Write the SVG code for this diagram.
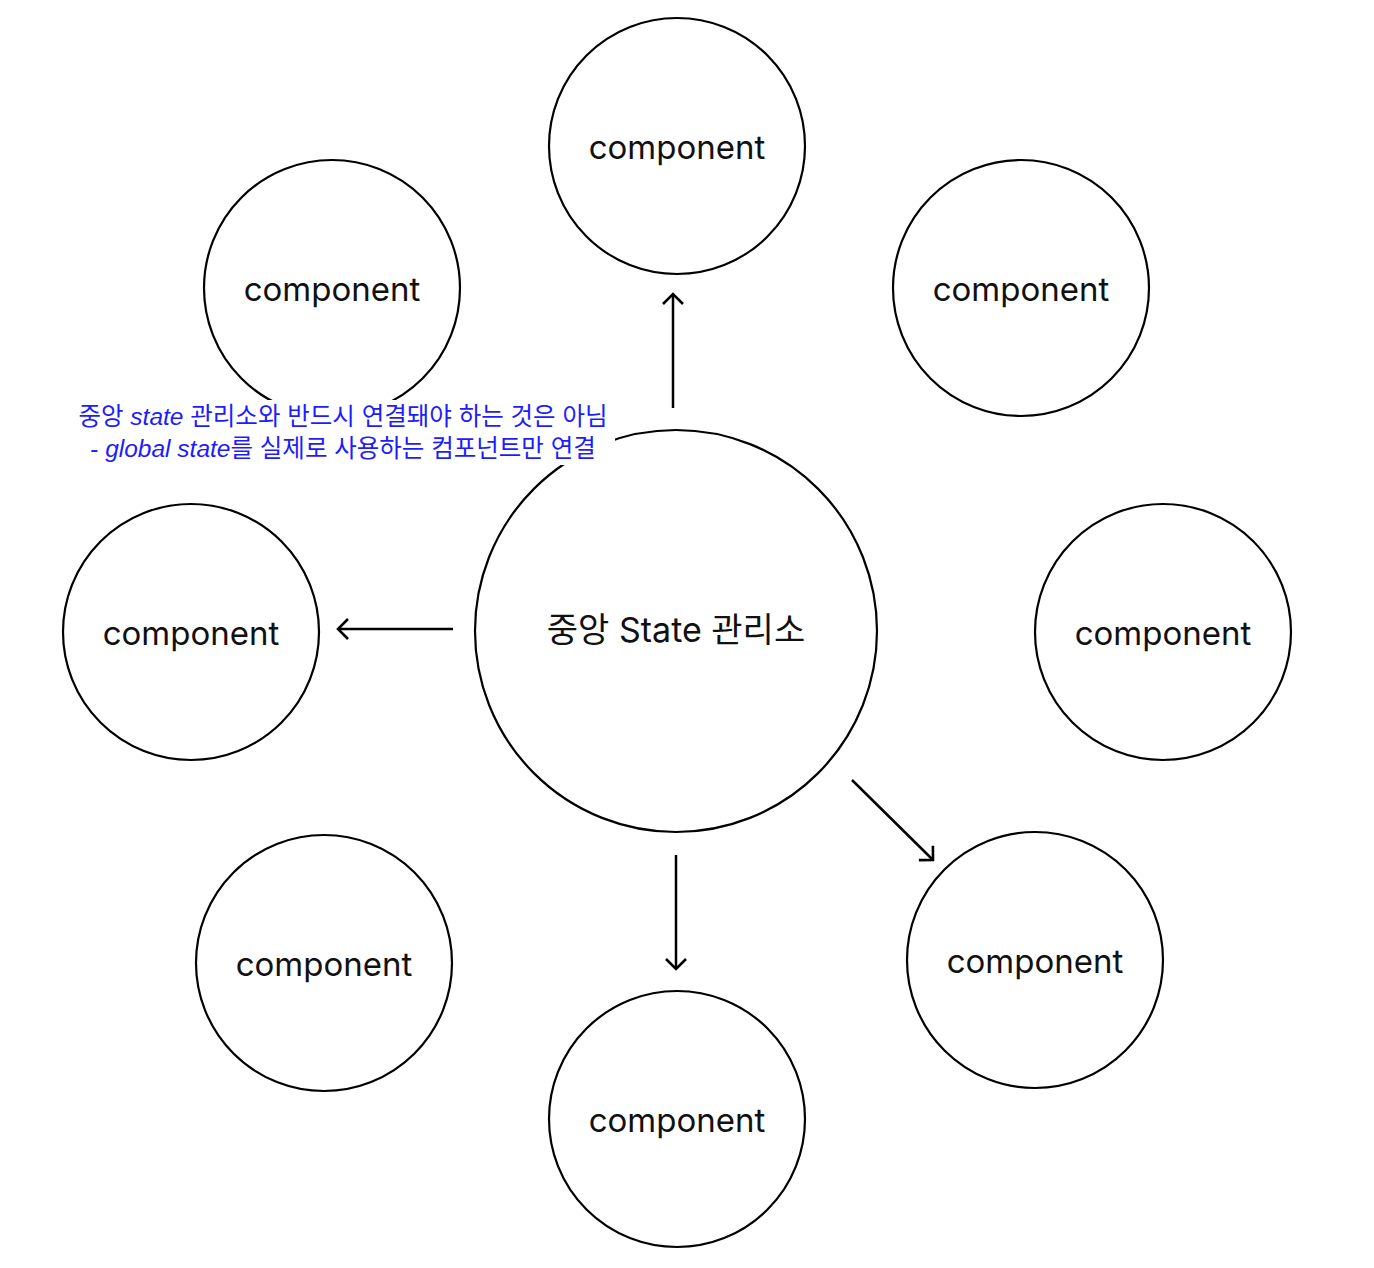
<svg xmlns="http://www.w3.org/2000/svg" width="1374" height="1268" viewBox="0 0 1374 1268">
<style>
.n{fill:#fff;stroke:#000;stroke-width:2.2}
.t{font-family:Inter,"Noto Sans CJK KR",sans-serif;font-size:33px;fill:#111;text-anchor:middle;dominant-baseline:central}
.c{stroke:#000;stroke-width:2.5;fill:none}
.note{font-family:"Liberation Sans","Noto Sans CJK KR",sans-serif;font-size:24.5px;fill:#1c1cff;text-anchor:middle}
</style>
<defs>
<marker id="a" viewBox="0 0 16 24" refX="14" refY="12" markerWidth="16" markerHeight="24" markerUnits="userSpaceOnUse" orient="auto">
<path d="M4,2 L14,12 L4,22" fill="none" stroke="#000" stroke-width="2.6"/>
</marker>
</defs>
<rect width="1374" height="1268" fill="#fff"/>
<g id="c-top"><circle class="n" cx="677" cy="146" r="128"/><text class="t" x="677" y="147">component</text></g>
<g id="c-topleft"><circle class="n" cx="332" cy="288" r="128"/><text class="t" x="332" y="289">component</text></g>
<g id="c-topright"><circle class="n" cx="1021" cy="288" r="128"/><text class="t" x="1021" y="289">component</text></g>
<g id="c-left"><circle class="n" cx="191" cy="632" r="128"/><text class="t" x="191" y="633">component</text></g>
<g id="center"><circle class="n" cx="676" cy="631" r="201"/><text class="t" x="676" y="629" style="font-size:34px">중앙 State 관리소</text></g>
<g id="c-right"><circle class="n" cx="1163" cy="632" r="128"/><text class="t" x="1163" y="633">component</text></g>
<g id="c-bottomleft"><circle class="n" cx="324" cy="963" r="128"/><text class="t" x="324" y="964">component</text></g>
<g id="c-bottom"><circle class="n" cx="677" cy="1119" r="128"/><text class="t" x="677" y="1120">component</text></g>
<g id="c-bottomright"><circle class="n" cx="1035" cy="960" r="128"/><text class="t" x="1035" y="961">component</text></g>
<g id="connectors">
<line class="c" x1="673" y1="408" x2="673" y2="294" marker-end="url(#a)"/>
<line class="c" x1="453" y1="629" x2="338" y2="629" marker-end="url(#a)"/>
<line class="c" x1="852" y1="780" x2="933" y2="860" marker-end="url(#a)"/>
<line class="c" x1="676" y1="855" x2="676" y2="969" marker-end="url(#a)"/>
</g>
<g id="note">
<rect x="68" y="400" width="547" height="65" fill="#fff"/>
<text class="note" x="343" y="425">중앙 <tspan font-style="italic">state</tspan> 관리소와 반드시 연결돼야 하는 것은 아님</text>
<text class="note" x="343" y="457">- <tspan font-style="italic">global state</tspan>를 실제로 사용하는 컴포넌트만 연결</text>
</g>
</svg>
